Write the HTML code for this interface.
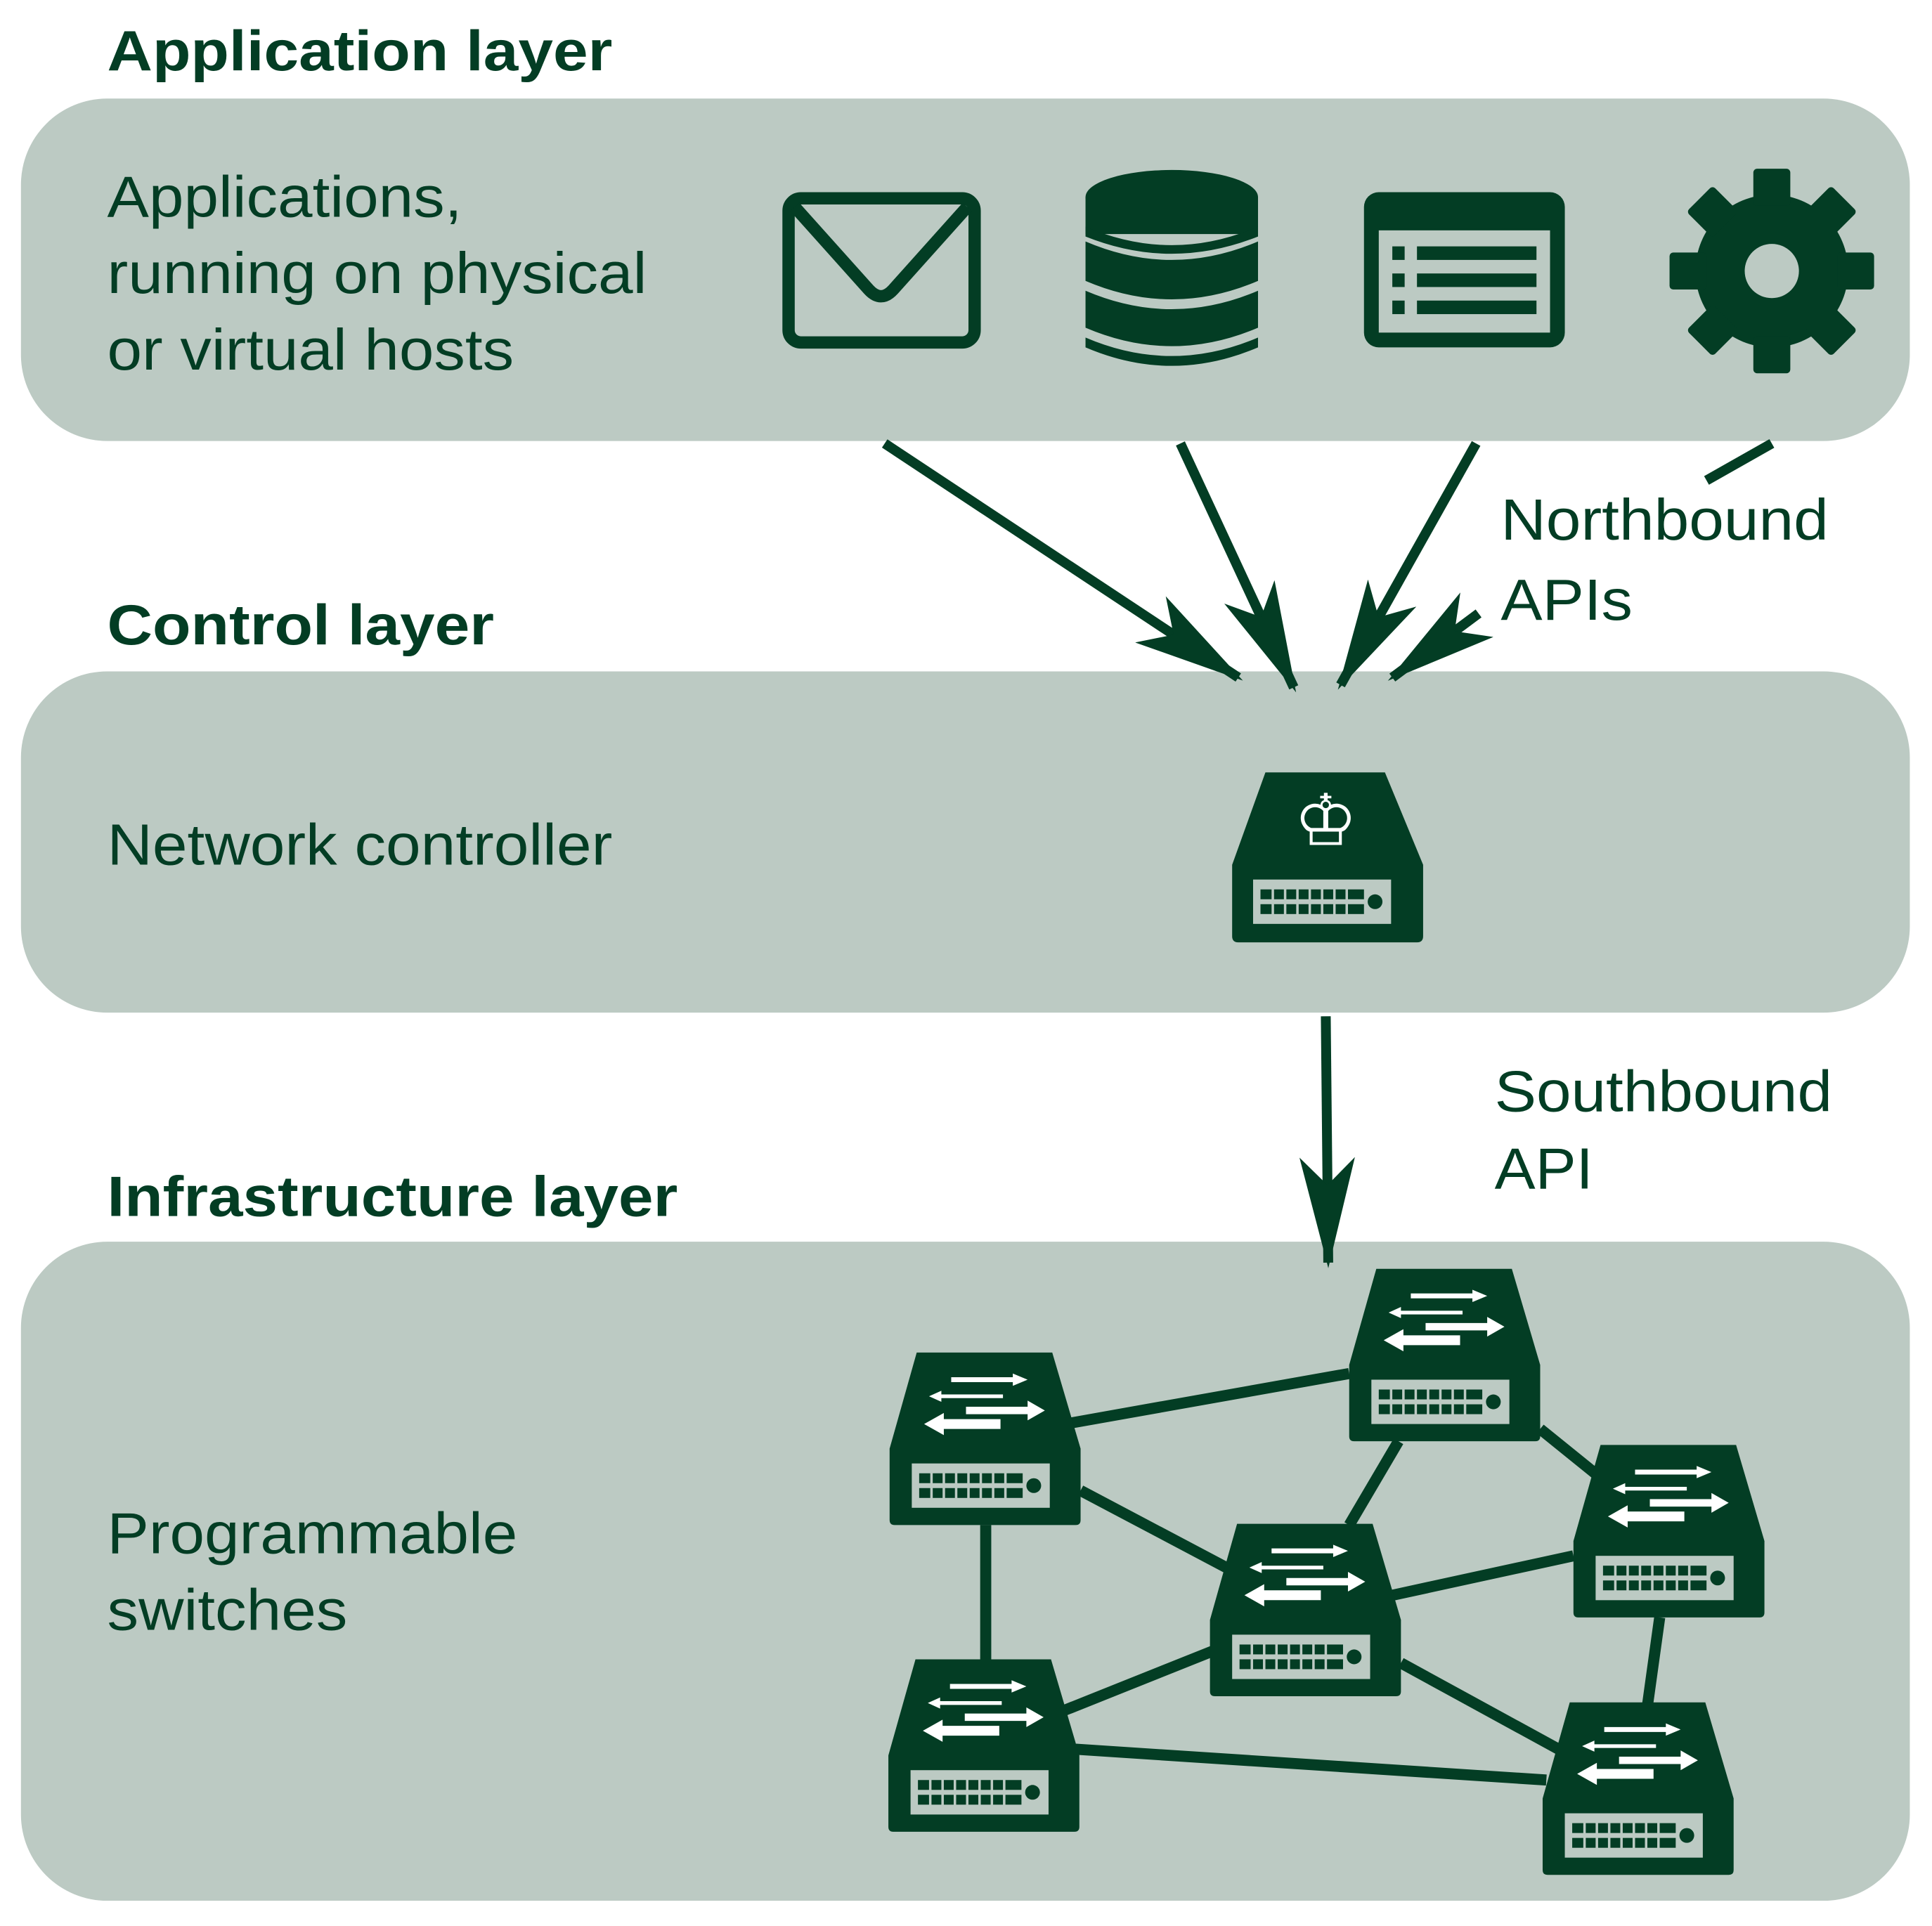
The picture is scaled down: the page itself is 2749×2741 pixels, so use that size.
<!DOCTYPE html>
<html><head><meta charset="utf-8"><style>
html,body{margin:0;padding:0;background:#fff}
svg{display:block}
text{font-family:"Liberation Sans",sans-serif;fill:#033d24}
</style></head><body>
<svg width="2749" height="2741" viewBox="0 0 1568 1563.5" preserveAspectRatio="none" xmlns="http://www.w3.org/2000/svg">
<defs>
<g id="ports">
<rect x="0" y="0" width="112" height="36" fill="#bccac3"/>
<g fill="#033d24">
<rect x="6" y="8" width="84" height="8"/><rect x="6" y="20" width="84" height="8"/>
<circle cx="99" cy="18" r="6"/>
</g>
<g stroke="#bccac3" stroke-width="2">
<line x1="16" y1="6" x2="16" y2="30"/><line x1="26" y1="6" x2="26" y2="30"/><line x1="36" y1="6" x2="36" y2="30"/><line x1="46" y1="6" x2="46" y2="30"/><line x1="56" y1="6" x2="56" y2="30"/><line x1="66" y1="6" x2="66" y2="30"/><line x1="76" y1="6" x2="76" y2="30"/>
</g>
</g>
<g id="sw">
<path d="M22 0 L132 0 L155 78 L155 136 Q155 140 151 140 L4 140 Q0 140 0 136 L0 78 Z" fill="#033d24"/>
<use href="#ports" x="18" y="90"/>
<g fill="#fff">
<path d="M50 20 L100 20 L100 17 L112 22 L100 27 L100 24 L50 24 Z"/>
<path d="M42 34 L92 34 L92 37 L42 37 L42 40 L32 35.5 L42 31 Z"/>
<path d="M62 44 L112 44 L112 39 L126 47 L112 55 L112 50 L62 50 Z"/>
<path d="M44 54 L90 54 L90 62 L44 62 L44 67 L28 58 L44 49 Z"/>
</g>
</g>
<marker id="ah" viewBox="0 0 40 20" refX="38" refY="10" markerWidth="90" markerHeight="45" markerUnits="userSpaceOnUse" orient="auto">
<path d="M0 0 L40 10 L0 20 L10 10 Z" fill="#033d24"/>
</marker>
</defs>

<rect x="17" y="80" width="1533" height="278" rx="70" fill="#bccac3"/>
<rect x="17" y="545" width="1533" height="277" rx="70" fill="#bccac3"/>
<rect x="17" y="1008" width="1533" height="535" rx="70" fill="#bccac3"/>

<g lengthAdjust="spacingAndGlyphs">
<text x="87" y="57" font-size="46" font-weight="bold" textLength="410" lengthAdjust="spacingAndGlyphs">Application layer</text>
<text x="87" y="523" font-size="46" font-weight="bold" textLength="314" lengthAdjust="spacingAndGlyphs">Control layer</text>
<text x="87" y="987" font-size="46" font-weight="bold" textLength="463" lengthAdjust="spacingAndGlyphs">Infrastructure layer</text>

<text font-size="47" x="87" y="176" textLength="288" lengthAdjust="spacingAndGlyphs">Applications,</text>
<text font-size="47" x="87" y="238" textLength="438" lengthAdjust="spacingAndGlyphs">running on physical</text>
<text font-size="47" x="87" y="300" textLength="330" lengthAdjust="spacingAndGlyphs">or virtual hosts</text>
<text font-size="47" x="87" y="702" textLength="410" lengthAdjust="spacingAndGlyphs">Network controller</text>
<text font-size="47" x="87" y="1261" textLength="333" lengthAdjust="spacingAndGlyphs">Programmable</text>
<text font-size="47" x="87" y="1323" textLength="195" lengthAdjust="spacingAndGlyphs">switches</text>
<text font-size="47" x="1218" y="438" textLength="266" lengthAdjust="spacingAndGlyphs">Northbound</text>
<text font-size="47" x="1218" y="503" textLength="107" lengthAdjust="spacingAndGlyphs">APIs</text>
<text font-size="47" x="1213" y="902" textLength="274" lengthAdjust="spacingAndGlyphs">Southbound</text>
<text font-size="47" x="1213" y="965" textLength="80" lengthAdjust="spacingAndGlyphs">API</text>
</g>

<!-- envelope -->
<rect x="640" y="161" width="151" height="117" rx="10" fill="none" stroke="#033d24" stroke-width="10"/>
<path d="M645 168 L705 235 Q715 246 725 235 L785 168" fill="none" stroke="#033d24" stroke-width="10"/>
<!-- database -->
<g fill="#033d24">
<ellipse cx="951" cy="160" rx="70" ry="22"/>
<rect x="881" y="160" width="140" height="30"/>
<path d="M881 196 Q951 226 1021 196 L1021 228 Q951 258 881 228 Z"/>
<path d="M881 236 Q951 266 1021 236 L1021 266 Q951 296 881 266 Z"/>
<path d="M881 184 Q951 214 1021 184 L1021 192 Q951 220 881 192 Z"/>
<path d="M881 274 Q951 304 1021 274 L1021 282 Q951 312 881 282 Z"/>
</g>
<!-- list window -->
<rect x="1107" y="156" width="163" height="126" rx="12" fill="#033d24"/>
<rect x="1119" y="187" width="139" height="83" fill="#bccac3"/>
<g fill="#033d24">
<rect x="1130" y="200" width="10" height="11"/><rect x="1150" y="200" width="97" height="11"/>
<rect x="1130" y="222" width="10" height="11"/><rect x="1150" y="222" width="97" height="11"/>
<rect x="1130" y="244" width="10" height="11"/><rect x="1150" y="244" width="97" height="11"/>
</g>
<!-- gear -->
<g transform="translate(1438,220)" fill="#033d24">
<circle r="62"/>
<g id="tooth"><rect x="-15" y="-83" width="30" height="30" rx="3"/></g>
<use href="#tooth" transform="rotate(45)"/><use href="#tooth" transform="rotate(90)"/><use href="#tooth" transform="rotate(135)"/>
<use href="#tooth" transform="rotate(180)"/><use href="#tooth" transform="rotate(225)"/><use href="#tooth" transform="rotate(270)"/><use href="#tooth" transform="rotate(315)"/>
<circle r="22" fill="#bccac3"/>
</g>

<!-- northbound arrows -->
<g stroke="#033d24" stroke-width="8" fill="none">
<line x1="718" y1="360" x2="1005" y2="550" marker-end="url(#ah)"/>
<line x1="958" y1="360" x2="1050" y2="558" marker-end="url(#ah)"/>
<line x1="1198" y1="360" x2="1088" y2="556" marker-end="url(#ah)"/>
<line x1="1438" y1="360" x2="1385" y2="390"/>
<line x1="1200" y1="498" x2="1130" y2="550" marker-end="url(#ah)"/>
<line x1="1076" y1="825" x2="1078" y2="1025" marker-end="url(#ah)"/>
</g>

<!-- controller -->
<path d="M1027 627 L1124 627 L1155 702 L1155 760 Q1155 765 1150 765 L1005 765 Q1000 765 1000 760 L1000 702 Z" fill="#033d24"/>
<use href="#ports" x="1017" y="714"/>
<text x="1076" y="686" font-size="58" text-anchor="middle" style="fill:#fff">♔</text>

<!-- links -->
<g stroke="#033d24" stroke-width="9">
<line x1="870" y1="1155" x2="1095" y2="1115"/>
<line x1="877" y1="1210" x2="1000" y2="1275"/>
<line x1="800" y1="1238" x2="800" y2="1347"/>
<line x1="1135" y1="1170" x2="1095" y2="1238"/>
<line x1="1250" y1="1160" x2="1297" y2="1198"/>
<line x1="1130" y1="1295" x2="1277" y2="1263"/>
<line x1="985" y1="1340" x2="860" y2="1390"/>
<line x1="1137" y1="1350" x2="1265" y2="1420"/>
<line x1="1347" y1="1313" x2="1337" y2="1385"/>
<line x1="873" y1="1420" x2="1255" y2="1445"/>
</g>
<use href="#sw" x="722" y="1098"/>
<use href="#sw" x="1095" y="1030"/>
<use href="#sw" x="1277" y="1173"/>
<use href="#sw" x="982" y="1237"/>
<use href="#sw" x="721" y="1347"/>
<use href="#sw" x="1252" y="1382"/>
</svg>
</body></html>
